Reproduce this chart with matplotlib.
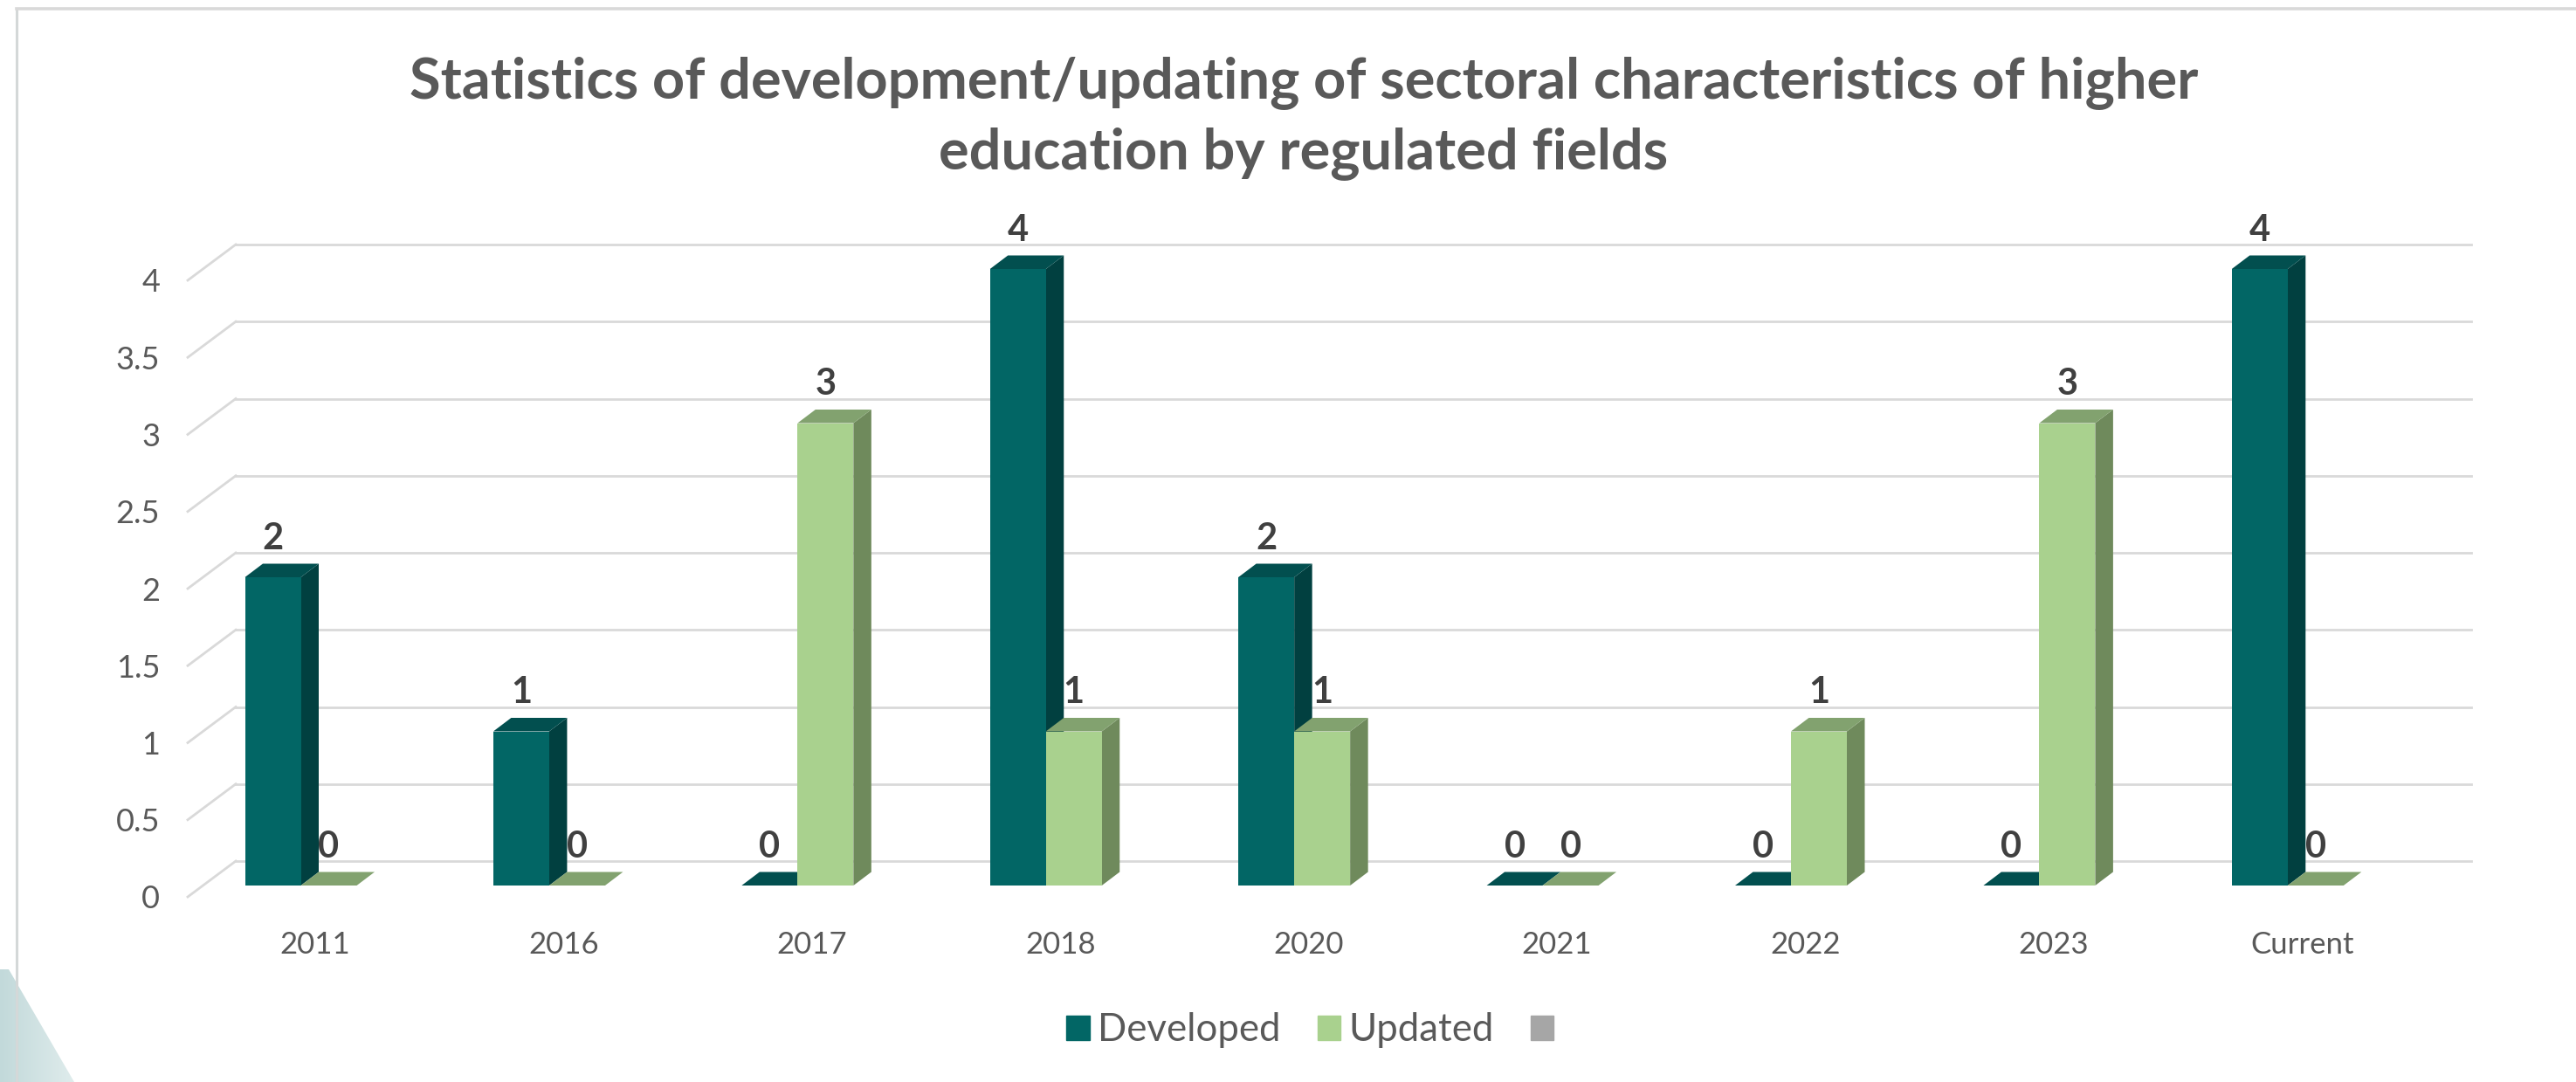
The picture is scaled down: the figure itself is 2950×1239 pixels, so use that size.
import matplotlib
matplotlib.use('Agg')
import matplotlib.pyplot as plt
import numpy as np
from matplotlib.patches import Patch, Polygon
from matplotlib.transforms import Affine2D, IdentityTransform

categories = ['2011', '2016', '2017', '2018', '2020', '2021', '2022', '2023', 'Current']
developed = [2, 1, 0, 4, 2, 0, 0, 0, 4]
updated = [0, 0, 3, 1, 1, 0, 1, 3, 0]
y_ticks = [0, 0.5, 1, 1.5, 2, 2.5, 3, 3.5, 4]
y_tick_labels = ['0', '0.5', '1', '1.5', '2', '2.5', '3', '3.5', '4']

W, H = 2950, 1239
plt.rcParams['font.family'] = ['Lato', 'DejaVu Sans']

fig = plt.figure(figsize=(W / 100, H / 100), dpi=100, facecolor='white')

# backdrop in pixel coordinates: slide frame and the corner triangle
bg = fig.add_axes([0, 0, 1, 1])
bg.set_xlim(0, W)
bg.set_ylim(H, 0)
bg.axis('off')
grad = np.linspace(0, 1, 256).reshape(1, -1)
cmap = matplotlib.colors.LinearSegmentedColormap.from_list('tri', ['#c2d9da', '#dfecec'])
im = bg.imshow(grad, extent=(0, 85, H, 1110), cmap=cmap, aspect='auto', zorder=1)
im.set_clip_path(Polygon([(0, 1110), (10, 1110), (85, H), (0, H)], transform=bg.transData))
bg.set_xlim(0, W)
bg.set_ylim(H, 0)
bg.plot([19, 19], [10, H], color='#d4d8d8', lw=2.2, zorder=2)
bg.plot([19, W], [10, 10], color='#d9d9d9', lw=2.6, zorder=2)

# front plane of the 3D box, y=0 at 1027px, 176.5px per unit
ax = fig.add_axes([215 / W, 1 - 1027 / H, 2560 / W, 706 / H])
ax.patch.set_alpha(0)
ax.set_xlim(-0.513, 8.488)
ax.set_ylim(0, 4)
for s in ax.spines.values():
    s.set_visible(False)

ax.set_xticks(range(len(categories)))
ax.set_xticklabels(categories, fontsize=25, color='#595959')
ax.set_yticks(y_ticks)
ax.set_yticklabels(y_tick_labels, fontsize=26, color='#595959')
ax.tick_params(axis='x', length=0, pad=28)
ax.tick_params(axis='y', length=0, pad=23)

DEPTH = (55, 41)
BAR_SHIFT = (-16.4, 13)
BAR_DEPTH = (20.5, 15.5)
BAR_W = 64 / 284.4


def px(x, v, off=(0, 0)):
    p = ax.transData.transform((x, v))
    return (p[0] + off[0], p[1] + off[1])


def poly(pts, color, z):
    ax.add_patch(Polygon(pts, closed=True, facecolor=color, edgecolor='none',
                         transform=IdentityTransform(), zorder=z, clip_on=False))


# gridlines on the back wall plus the short diagonals on the left side
back = ax.transData + Affine2D().translate(*DEPTH)
for t in y_ticks:
    ax.plot([-0.513, 8.488], [t, t], transform=back, color='#d9d9d9', lw=2, zorder=1, clip_on=False)
    a, b = px(-0.513, t), px(-0.513, t, DEPTH)
    ax.plot([a[0], b[0]], [a[1], b[1]], transform=IdentityTransform(), color='#d9d9d9', lw=2,
            zorder=1, clip_on=False)

shift = ax.transData + Affine2D().translate(*BAR_SHIFT)
series = [
    (developed, -BAR_W, '#026665', '#014040', '#024f4f', 2),
    (updated, 0, '#a9d18e', '#6f8a5c', '#82a26f', 3),
]
sx, sy = BAR_SHIFT
dx, dy = BAR_DEPTH
for values, off, front, side, top, z in series:
    ax.bar(np.arange(len(values)) + off, values, width=BAR_W, align='edge', color=front,
           transform=shift, zorder=z + 0.1, clip_on=False)
    for i, v in enumerate(values):
        x0, x1 = i + off, i + off + BAR_W
        if v > 0:
            poly([px(x1, 0, (sx, sy)), px(x1, v, (sx, sy)),
                  px(x1, v, (sx + dx, sy + dy)), px(x1, 0, (sx + dx, sy + dy))], side, z)
        poly([px(x0, v, (sx, sy)), px(x1, v, (sx, sy)),
              px(x1, v, (sx + dx, sy + dy)), px(x0, v, (sx + dx, sy + dy))], top, z)
        ax.annotate(str(v), xy=(i + off + BAR_W / 2, v), xycoords=shift, xytext=(0, 32),
                    textcoords='offset points', ha='center', va='center', fontsize=30,
                    fontweight='bold', color='#404040', zorder=6, annotation_clip=False)

fig.text(1493 / W, 1 - 136 / H,
         'Statistics of development/updating of sectoral characteristics of higher\n'
         'education by regulated fields',
         ha='center', va='center', fontsize=46.7, fontweight='bold', color='#595959',
         linespacing=1.4)

handles = [Patch(color='#026665'), Patch(color='#a9d18e'), Patch(color='#a6a6a6')]
fig.legend(handles, ['Developed', 'Updated', ''], ncol=3, loc='center',
           bbox_to_anchor=(1505 / W, 1 - 1180 / H), frameon=False, fontsize=31.5,
           handlelength=0.6, handleheight=0.6, handletextpad=0.21, columnspacing=0.97,
           labelcolor='#595959')

fig.savefig('out.png', dpi=100)
